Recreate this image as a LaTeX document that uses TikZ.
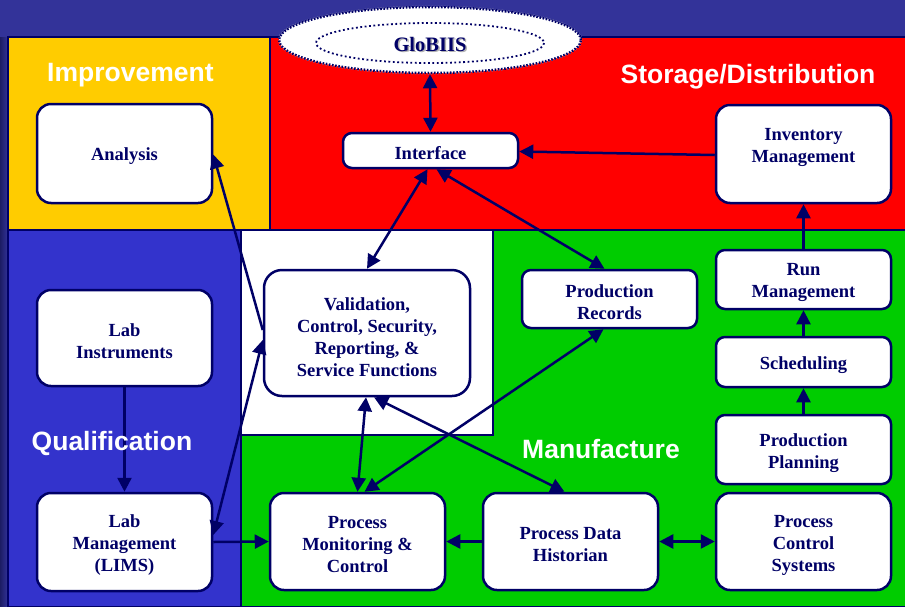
\documentclass[tikz,border=0pt]{standalone}
\usepackage{fontspec}
\setmainfont{Liberation Serif}
\newfontfamily\headfont{Liberation Sans}
\usetikzlibrary{arrows.meta,shapes.geometric}
\definecolor{navy}{RGB}{0,0,102}
\definecolor{topbg}{RGB}{51,51,153}
\definecolor{stripe}{RGB}{28,28,100}
\definecolor{ylw}{RGB}{255,204,0}
\definecolor{rd}{RGB}{255,0,0}
\definecolor{bl}{RGB}{51,51,204}
\definecolor{gr}{RGB}{0,204,0}
\begin{document}
\begin{tikzpicture}[x=1pt,y=-1pt,
  box/.style={draw=navy, line width=2.5pt, fill=white, rounded corners=14pt,
    minimum width=175pt, inner sep=0pt},
  sbox/.style={box, rounded corners=9pt},
  txt/.style={text=navy, align=center, inner sep=0pt,
    font=\bfseries\fontsize{18.5}{22}\selectfont},
  tip/.tip={Triangle[length=14pt,width=14pt]},
  conn/.style={draw=navy, line width=2.5pt, -tip},
  dconn/.style={draw=navy, line width=2.5pt, tip-tip},
  panel/.style={draw=navy, line width=1.5pt},
  head/.style={font=\headfont\bfseries\fontsize{26.5}{30}\selectfont,
    text=white, inner sep=0pt, anchor=base west}]
\useasboundingbox (0,0) rectangle (905,606);
% background
\fill[topbg] (0,0) rectangle (905,606);
\shade[left color=stripe, right color=topbg] (0,37) rectangle (8,606);
% panels
\filldraw[panel, fill=ylw] (8,37) rectangle (270,230);
\filldraw[panel, fill=rd] (270,37) rectangle (906,230);
\filldraw[panel, fill=bl] (8,230) rectangle (241,607);
\filldraw[panel, fill=white] (241,230) rectangle (493,435);
\filldraw[panel, fill=gr] (493,230) -- (906,230) -- (906,607) -- (241,607) -- (241,435) -- (493,435) -- cycle;
% GloBIIS
\node[ellipse, minimum width=302pt, minimum height=66pt, fill=white, inner sep=0pt,
  preaction={draw=white, line width=2.5pt},
  draw=navy, line width=2.5pt, dash pattern=on 1.6pt off 1.6pt] (glob) at (430,40) {};
\draw[navy, line width=1.8pt, dash pattern=on 1.8pt off 2.6pt] (430,43) ellipse [x radius=114, y radius=20];
\node[text=black!30, font=\bfseries\fontsize{20.5}{24}\selectfont, inner sep=0pt] (globs) at (431.5,45.5) {GloBIIS};
\node[text=navy, font=\bfseries\fontsize{20.5}{24}\selectfont, inner sep=0pt] (globt) at (430,44) {GloBIIS};
% boxes
\node[sbox, minimum height=35pt] (iface) at (430.5,150.5) {};
\node[box, minimum height=99pt] (ana) at (124.5,153.5) {};
\node[box, minimum height=98pt] (inv) at (803.5,154) {};
\node[box, minimum height=96pt] (labi) at (124.5,338) {};
\node[box, minimum height=98pt] (labm) at (124.5,542) {};
\node[box, minimum width=206pt, minimum height=126pt, rounded corners=18pt] (val) at (367,333) {};
\node[sbox, minimum height=58pt] (prec) at (609.5,299) {};
\node[sbox, minimum height=59pt] (run) at (803.5,279.5) {};
\node[sbox, minimum height=50pt] (sched) at (803.5,362) {};
\node[sbox, minimum height=69pt] (plan) at (803.5,449.5) {};
\node[box, minimum height=97pt] (pcs) at (803.5,541.5) {};
\node[box, minimum height=97pt] (pdh) at (570.5,541.5) {};
\node[box, minimum height=97pt] (pm) at (357.5,541.5) {};
% box texts
\node[txt] (ifacet) at (430.5,153) {Interface};
\node[txt] (anat) at (124.5,156) {Analysis};
\node[txt] (invt) at (803.5,147) {Inventory\\Management};
\node[txt] (labit) at (124.5,341) {Lab\\Instruments};
\node[txt] (labmt) at (124.5,545) {Lab\\Management\\(LIMS)};
\node[txt] (valt) at (367,337) {Validation,\\Control, Security,\\Reporting, \&\\Service Functions};
\node[txt] (prect) at (609.5,302) {Production\\Records};
\node[txt] (runt) at (803.5,282.5) {Run\\Management};
\node[txt] (schedt) at (803.5,365) {Scheduling};
\node[txt] (plant) at (803.5,453) {Production\\Planning};
\node[txt] (pcst) at (803.5,545) {Process\\Control\\Systems};
\node[txt] (pdht) at (570.5,545) {Process Data\\Historian};
\node[txt] (pmt) at (357.5,545) {Process\\Monitoring \&\\Control};
% connectors
\draw[dconn] (glob.south) -- (iface.north);
\draw[conn] ([yshift=-1pt]inv.west) -- ([yshift=-1pt]iface.east);
\draw[conn] (run.north) -- (inv.south);
\draw[conn] (sched.north) -- (run.south);
\draw[conn] (plan.north) -- (sched.south);
\draw[conn] (labi.south) -- (labm.north);
\draw[conn] (labm.east) -- (pm.west);
\draw[conn] (pdh.west) -- (pm.east);
\draw[dconn] (pdh.east) -- (pcs.west);
\draw[dconn] ([xshift=-3pt]iface.south) -- (val.north);
\draw[dconn] ([xshift=6pt]iface.south) -- ([xshift=-5pt]prec.north);
\draw[conn] ([yshift=3pt]val.west) -- ([yshift=-1pt]ana.east);
\draw[dconn] ([yshift=-7pt]val.west) -- ([yshift=7pt]labm.east);
\draw[dconn] ([xshift=-1pt]val.south) -- (pm.north);
\draw[dconn] ([xshift=7pt]val.south) -- ([xshift=-6pt]pdh.north);
\draw[dconn] ([xshift=7pt]pm.north) -- ([xshift=-6pt]prec.south);
% headings
\node[head] (hImp) at (47,81.5) {Improvement};
\node[head] (hSto) at (620.5,83) {Storage/Distribution};
\node[head] (hQua) at (31.5,450) {Qualification};
\node[head] (hMan) at (522,458) {Manufacture};
\end{tikzpicture}
\end{document}
